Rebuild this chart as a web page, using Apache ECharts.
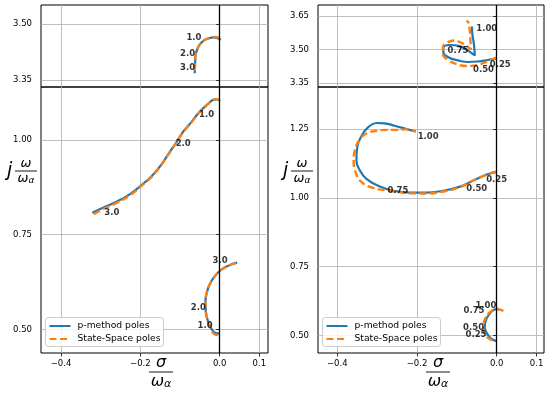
<!DOCTYPE html>
<html><head><meta charset="utf-8">
<script src="https://cdn.jsdelivr.net/npm/echarts@6/dist/echarts.min.js"></script>
<style>html,body{margin:0;padding:0;background:#fff}#c{width:550px;height:393px}</style>
</head><body><div id="c"></div>
<script>
const PM = 'p-method poles', SS = 'State-Space poles';
// tick values
const xTicks = [-0.4, -0.2, 0.0, 0.1];
const yTicksLT = [3.35, 3.50];
const yTicksLB = [0.50, 0.75, 1.00];
const yTicksRT = [3.35, 3.50, 3.65];
const yTicksRB = [0.50, 0.75, 1.00, 1.25];
// Left panel curves [sigma, omega]
const L_top_p = [[0.003,3.458],[-0.006,3.462],[-0.016,3.464],[-0.029,3.461],[-0.041,3.455],[-0.051,3.444],[-0.058,3.428],[-0.0615,3.412],[-0.062,3.395],[-0.063,3.368]];
const L_top_s = [[0.000,3.463],[-0.010,3.465],[-0.020,3.464],[-0.030,3.461],[-0.041,3.455],[-0.051,3.444],[-0.058,3.428],[-0.0615,3.412],[-0.062,3.395],[-0.063,3.372]];
const L_bot1_p = [[0.001,1.103],[-0.008,1.107],[-0.016,1.106],[-0.030,1.095],[-0.050,1.075],[-0.071,1.048],[-0.092,1.022],[-0.108,0.996],[-0.130,0.962],[-0.150,0.931],[-0.171,0.905],[-0.197,0.881],[-0.226,0.857],[-0.260,0.837],[-0.293,0.822],[-0.321,0.808]];
const L_bot1_s = [[0.000,1.106],[-0.010,1.108],[-0.018,1.105],[-0.030,1.094],[-0.050,1.074],[-0.071,1.047],[-0.092,1.021],[-0.108,0.995],[-0.130,0.961],[-0.150,0.930],[-0.171,0.903],[-0.197,0.879],[-0.226,0.854],[-0.260,0.834],[-0.293,0.818],[-0.318,0.804]];
const L_bot2_p = [[0.044,0.676],[0.026,0.670],[0.009,0.661],[-0.004,0.650],[-0.016,0.635],[-0.026,0.617],[-0.033,0.595],[-0.036,0.573],[-0.035,0.547],[-0.029,0.520],[-0.020,0.500],[-0.012,0.491],[0.000,0.489]];
const L_bot2_s = [[0.041,0.675],[0.026,0.670],[0.009,0.661],[-0.004,0.650],[-0.016,0.635],[-0.026,0.617],[-0.033,0.595],[-0.036,0.573],[-0.035,0.547],[-0.029,0.520],[-0.021,0.498],[-0.013,0.487],[-0.004,0.485]];
// Right panel curves
const R_top_p = [[0.000,3.460],[-0.022,3.453],[-0.047,3.446],[-0.072,3.444],[-0.097,3.451],[-0.120,3.464],[-0.134,3.487],[-0.134,3.507],[-0.117,3.520],[-0.095,3.516],[-0.075,3.498],[-0.055,3.473],[-0.057,3.522],[-0.061,3.567],[-0.062,3.603]];
const R_top_s = [[0.000,3.464],[-0.024,3.446],[-0.049,3.430],[-0.077,3.426],[-0.102,3.435],[-0.122,3.453],[-0.135,3.480],[-0.135,3.511],[-0.124,3.531],[-0.107,3.540],[-0.090,3.531],[-0.075,3.516],[-0.065,3.500],[-0.066,3.545],[-0.068,3.590],[-0.071,3.621],[-0.076,3.628]];
const R_bot1_p = [[-0.002,1.093],[-0.025,1.085],[-0.059,1.063],[-0.092,1.041],[-0.134,1.026],[-0.176,1.019],[-0.218,1.019],[-0.260,1.026],[-0.293,1.041],[-0.327,1.069],[-0.343,1.099],[-0.352,1.135],[-0.350,1.184],[-0.339,1.226],[-0.323,1.256],[-0.302,1.272],[-0.281,1.271],[-0.256,1.262],[-0.226,1.250],[-0.203,1.241]];
const R_bot1_s = [[-0.002,1.095],[-0.025,1.085],[-0.059,1.063],[-0.092,1.039],[-0.134,1.023],[-0.176,1.016],[-0.218,1.017],[-0.268,1.026],[-0.310,1.036],[-0.339,1.057],[-0.354,1.093],[-0.359,1.135],[-0.356,1.172],[-0.343,1.214],[-0.327,1.234],[-0.302,1.244],[-0.276,1.247],[-0.251,1.247],[-0.226,1.249],[-0.203,1.241]];
const R_bot2_p = [[0.000,0.480],[-0.008,0.484],[-0.018,0.495],[-0.026,0.512],[-0.030,0.530],[-0.028,0.552],[-0.020,0.575],[-0.010,0.590],[0.000,0.597],[0.006,0.596]];
const R_bot2_s = [[0.017,0.589],[0.008,0.594],[0.000,0.595],[-0.017,0.585],[-0.029,0.561],[-0.034,0.530],[-0.028,0.500],[-0.014,0.485],[-0.003,0.476]];
// annotation labels [text, sigma, omega]
const L_top_lbl = [['1.0',-0.065,3.464],['2.0',-0.081,3.419],['3.0',-0.081,3.383]];
const L_bot_lbl = [['1.0',-0.033,1.066],['2.0',-0.092,0.991],['3.0',-0.272,0.809],['3.0',0.001,0.681],['2.0',-0.054,0.558],['1.0',-0.037,0.509]];
const R_top_lbl = [['1.00',-0.025,3.593],['0.75',-0.097,3.496],['0.50',-0.033,3.410],['0.25',0.009,3.430]];
const R_bot_lbl = [['1.00',-0.172,1.222],['0.75',-0.248,1.024],['0.50',-0.050,1.033],['0.25',0.000,1.067],['1.00',-0.027,0.609],['0.75',-0.057,0.589],['0.50',-0.058,0.528],['0.25',-0.052,0.503]];

const FONT = 'DejaVu Sans';
const BLUE = '#1f77b4', ORANGE = '#ff7f0e';
const fmtX = v => (v < 0 ? '\u2212' + Math.abs(v).toFixed(1) : v.toFixed(1));
const fmtY = v => v.toFixed(2);

const grids = [
  {left:41, top:5, width:227, height:82},
  {left:41, top:87, width:227, height:266},
  {left:318, top:5, width:226, height:82},
  {left:318, top:87, width:226, height:266}
].map(g => Object.assign({show:true, borderColor:'#000', borderWidth:1, backgroundColor:'transparent'}, g));

function xAx(gi, min, max, showLabels) {
  return {type:'value', gridIndex:gi, min, max, position:'bottom',
    axisLine:{show:false},
    axisTick:{show:showLabels, length:3.5, lineStyle:{color:'#000', width:0.8}, customValues:xTicks},
    axisLabel:{show:showLabels, customValues:xTicks, formatter:fmtX, fontFamily:FONT, fontSize:8.5, color:'#000', margin:6},
    splitLine:{show:true, lineStyle:{color:'#b0b0b0', width:0.8}}};
}
function yAx(gi, min, max, ticks) {
  return {type:'value', gridIndex:gi, min, max,
    axisLine:{show:false},
    axisTick:{show:true, length:3.5, lineStyle:{color:'#000', width:0.8}, customValues:ticks},
    axisLabel:{show:true, customValues:ticks, formatter:fmtY, fontFamily:FONT, fontSize:8.5, color:'#000', margin:9},
    splitLine:{show:true, lineStyle:{color:'#b0b0b0', width:0.8}}};
}

const series = [];
function curve(gi, name, data) {
  const isS = name === SS;
  series.push({type:'line', name, xAxisIndex:gi, yAxisIndex:gi, data, showSymbol:false, symbol:'none', smooth:0.45,
    z: isS ? 4 : 3, silent:true,
    lineStyle:{color: isS ? ORANGE : BLUE, width: isS ? 2.4 : 2.2, type: isS ? [7,3.5] : 'solid'},
    itemStyle:{color: isS ? ORANGE : BLUE}});
}
function vline(gi) {
  series.push({type:'line', name:'_v'+gi, xAxisIndex:gi, yAxisIndex:gi, data:[], silent:true, z:2,
    markLine:{silent:true, symbol:'none', label:{show:false}, animation:false,
      lineStyle:{color:'#000', width:1.3, type:'solid'}, data:[{xAxis:0}]}});
}
function labels(gi, arr) {
  series.push({type:'scatter', name:'_l'+gi, xAxisIndex:gi, yAxisIndex:gi, symbolSize:1, silent:true, z:6,
    itemStyle:{color:'rgba(0,0,0,0)'},
    data: arr.map(a => ({name:a[0], value:[a[1], a[2]]})),
    label:{show:true, position:'inside', formatter:p => p.name, fontFamily:FONT, fontSize:8.5, fontWeight:'bold', color:'#000'}});
}
[0,1,2,3].forEach(vline);
curve(0, PM, L_top_p); curve(0, SS, L_top_s);
curve(1, PM, L_bot1_p); curve(1, SS, L_bot1_s);
curve(1, PM, L_bot2_p); curve(1, SS, L_bot2_s);
curve(2, PM, R_top_p); curve(2, SS, R_top_s);
curve(3, PM, R_bot1_p); curve(3, SS, R_bot1_s);
curve(3, PM, R_bot2_p); curve(3, SS, R_bot2_s);
labels(0, L_top_lbl); labels(1, L_bot_lbl); labels(2, R_top_lbl); labels(3, R_bot_lbl);

function legend(left) {
  return {left, top:317.5, orient:'vertical', data:[PM, SS], itemWidth:21, itemHeight:10, itemGap:4,
    padding:[4,3,3,3], backgroundColor:'rgba(255,255,255,0.8)', borderColor:'#cccccc', borderWidth:1, borderRadius:3,
    selectedMode:false, itemStyle:{color:'rgba(0,0,0,0)', borderColor:'rgba(0,0,0,0)', borderWidth:0},
    textStyle:{fontFamily:FONT, fontSize:9.2, color:'#000', padding:[0,0,0,2]}};
}

const MATH = 'italic 13px "DejaVu Sans"';
function fracY(x, y) {
  return [
    {type:'text', x:x, y:y, style:{text:'j', font:'italic 19px "DejaVu Sans"', fill:'#000', align:'left', verticalAlign:'middle', textAlign:'left', textVerticalAlign:'middle'}},
    {type:'text', x:x+19, y:y-7, style:{text:'\u03c9', font:MATH, fill:'#000', align:'center', verticalAlign:'middle', textAlign:'center', textVerticalAlign:'middle'}},
    {type:'line', shape:{x1:x+8, y1:y, x2:x+30, y2:y}, style:{stroke:'#000', lineWidth:0.9}},
    {type:'text', x:x+19, y:y+8, style:{text:'{w|\u03c9}{a|\u03b1}', fill:'#000', align:'center', verticalAlign:'middle', textAlign:'center', textVerticalAlign:'middle',
      rich:{w:{font:MATH}, a:{font:'italic 9px "DejaVu Sans"', verticalAlign:'bottom', padding:[4,0,0,0]}}}}
  ];
}
function fracX(cx, y) {
  return [
    {type:'text', x:cx, y:y-9, style:{text:'\u03c3', font:'italic 16px "DejaVu Sans"', fill:'#000', align:'center', verticalAlign:'middle', textAlign:'center', textVerticalAlign:'middle'}},
    {type:'line', shape:{x1:cx-12, y1:y, x2:cx+12, y2:y}, style:{stroke:'#000', lineWidth:0.9}},
    {type:'text', x:cx, y:y+10, style:{text:'{w|\u03c9}{a|\u03b1}', fill:'#000', align:'center', verticalAlign:'middle', textAlign:'center', textVerticalAlign:'middle',
      rich:{w:{font:'italic 16px "DejaVu Sans"'}, a:{font:'italic 11px "DejaVu Sans"', padding:[5,0,0,0]}}}}
  ];
}

const option = {
  animation:false,
  backgroundColor:'#fff',
  grid: grids,
  xAxis:[xAx(0,-0.4505,0.1218,false), xAx(1,-0.4505,0.1218,true), xAx(2,-0.4484,0.1187,false), xAx(3,-0.4484,0.1187,true)],
  yAxis:[yAx(0,3.3312,3.5509,yTicksLT), yAx(1,0.4375,1.140,yTicksLB), yAx(2,3.332,3.699,yTicksRT), yAx(3,0.4365,1.4028,yTicksRB)],
  legend:[legend(45.5), legend(322.5)],
  series,
  graphic:[].concat(fracY(7,171), fracY(283,171), fracX(161,372), fracX(438,372))
};
const chart = echarts.init(document.getElementById('c'), null, {renderer:'canvas'});
chart.setOption(option);
</script></body></html>
